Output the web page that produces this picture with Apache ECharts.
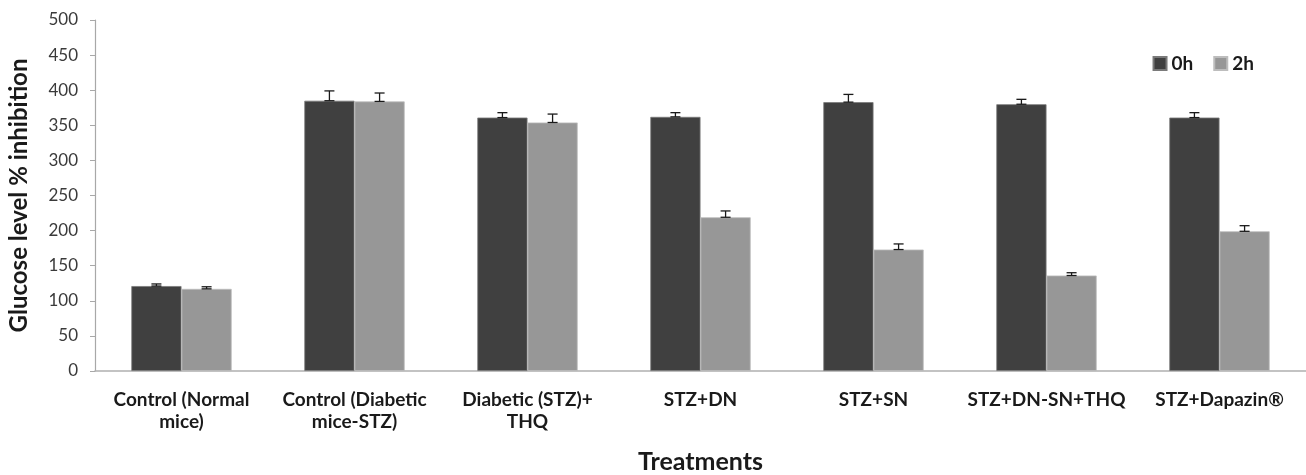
<!DOCTYPE html>
<html>
<head>
<meta charset="utf-8">
<script src="https://cdn.jsdelivr.net/npm/echarts@6/dist/echarts.min.js"></script>
<style>
  html, body { margin: 0; padding: 0; background: #fff; }
  #chart { width: 1306px; height: 475px; }
</style>
</head>
<body>
<div id="chart"></div>
<script>
// Treatment groups on the x axis
const categories = [
  'Control (Normal\nmice)',
  'Control (Diabetic\nmice-STZ)',
  'Diabetic (STZ)+\nTHQ',
  'STZ+DN',
  'STZ+SN',
  'STZ+DN-SN+THQ',
  'STZ+Dapazin®'
];
// Glucose level at 0 h and 2 h
const values0h = [121, 385, 361, 362, 383, 380, 361];
const values2h = [117, 384, 354, 219, 173, 136, 199];
// Error bar sizes
const err0h = [3, 14, 7, 6, 11, 7, 7];
const err2h = [3, 12, 12, 9, 8, 4, 8];
const yTicks = [0, 50, 100, 150, 200, 250, 300, 350, 400, 450, 500];

const FONT = 'Lato, "Open Sans", sans-serif';
const BAR_FRAC = 0.29;

function errorSeries(name, vals, errs, side) {
  return {
    type: 'custom',
    name: name + ' err',
    z: 5,
    data: vals.map((v, i) => [i, v, errs[i]]),
    renderItem: function (params, api) {
      const idx = api.value(0);
      const v = api.value(1);
      const e = api.value(2);
      const band = api.size([1, 0])[0];
      const cx = api.coord([idx, v])[0] + side * band * BAR_FRAC / 2;
      const yTop = api.coord([idx, v + e])[1];
      const yBot = api.coord([idx, v])[1];
      const cap = 5;
      const style = { stroke: '#1a1a1a', lineWidth: 1.3 };
      return {
        type: 'group',
        children: [
          { type: 'line', shape: { x1: cx, y1: yTop, x2: cx, y2: yBot }, style: style },
          { type: 'line', shape: { x1: cx - cap, y1: yTop, x2: cx + cap, y2: yTop }, style: style },
          { type: 'line', shape: { x1: cx - cap, y1: yBot, x2: cx + cap, y2: yBot }, style: style }
        ]
      };
    },
    tooltip: { show: false },
    silent: true
  };
}

const chart = echarts.init(document.getElementById('chart'), null, { renderer: 'canvas' });
chart.setOption({
  animation: false,
  backgroundColor: '#ffffff',
  grid: { left: 95, right: 0, top: 20, bottom: 104, containLabel: false, outerBoundsMode: 'none' },
  legend: {
    data: ['0h', '2h'],
    right: 47,
    top: 49,
    itemWidth: 13,
    itemHeight: 13,
    itemGap: 20,
    icon: 'rect',
    textStyle: { fontFamily: FONT, fontWeight: 'bold', fontSize: 19, color: '#1a1a1a' }
  },
  xAxis: {
    type: 'category',
    data: categories,
    name: 'Treatments',
    nameLocation: 'middle',
    nameGap: 78,
    nameTextStyle: { fontFamily: FONT, fontWeight: 'bold', fontSize: 25, color: '#1a1a1a' },
    axisLine: { lineStyle: { color: '#b0b0b0', width: 1.5 } },
    axisTick: { show: false },
    axisLabel: {
      interval: 0,
      margin: 18,
      fontFamily: FONT,
      fontWeight: 'bold',
      fontSize: 19,
      lineHeight: 22,
      color: '#1a1a1a'
    }
  },
  yAxis: {
    type: 'value',
    min: yTicks[0],
    max: yTicks[yTicks.length - 1],
    interval: 50,
    name: 'Glucose level % inhibition',
    nameLocation: 'middle',
    nameGap: 64,
    nameTextStyle: { fontFamily: FONT, fontWeight: 'bold', fontSize: 24, color: '#1a1a1a' },
    axisLine: { show: true, lineStyle: { color: '#a8a8a8', width: 1.2 } },
    axisTick: { show: true, length: 5, lineStyle: { color: '#a8a8a8' } },
    splitLine: { show: false },
    axisLabel: { fontFamily: FONT, fontSize: 17, color: '#3a3a3a', margin: 17 }
  },
  series: [
    {
      name: '0h',
      type: 'bar',
      data: values0h,
      barWidth: (BAR_FRAC * 100) + '%',
      barGap: '0%',
      itemStyle: { color: '#404040', borderColor: '#7a7a7a', borderWidth: 0.8 }
    },
    {
      name: '2h',
      type: 'bar',
      data: values2h,
      barWidth: (BAR_FRAC * 100) + '%',
      barGap: '0%',
      itemStyle: { color: '#979797', borderColor: '#bdbdbd', borderWidth: 0.8 }
    },
    errorSeries('0h', values0h, err0h, -1),
    errorSeries('2h', values2h, err2h, 1)
  ]
});
</script>
</body>
</html>
